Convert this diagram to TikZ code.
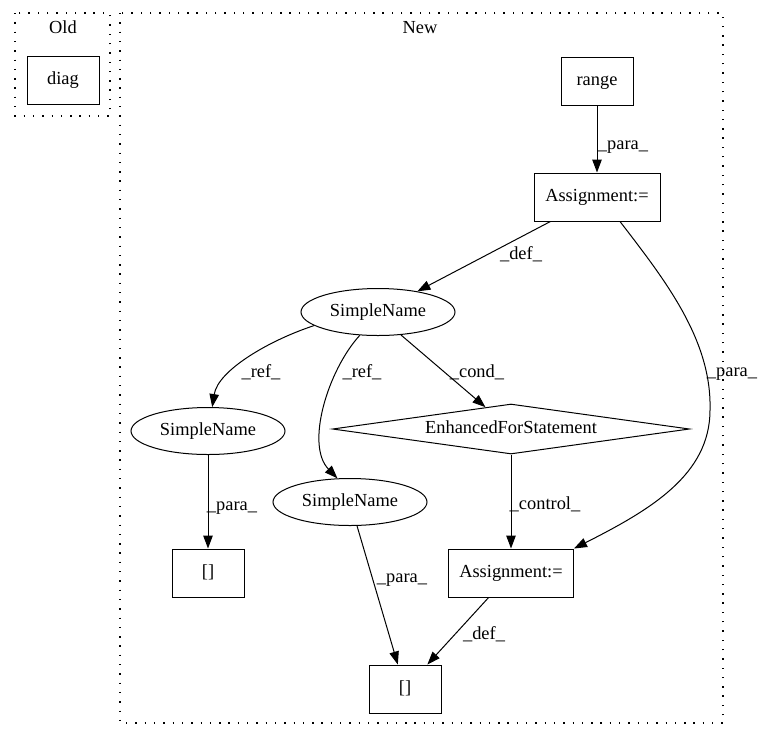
\documentclass[tikz,border=0pt]{standalone}
\usepackage{fontspec}
\setmainfont{Liberation Serif}
\usetikzlibrary{shapes.geometric,arrows.meta}
\begin{document}
\begin{tikzpicture}[x=1pt,y=-1pt,
  every node/.style={font=\fontsize{18.4}{22}\selectfont, text height=12.5pt, text depth=4pt, inner sep=0pt},
  gbox/.style={draw, rectangle, line width=1pt, minimum width=72pt, minimum height=48pt},
  gell/.style={draw, ellipse, line width=1pt, minimum width=154pt, minimum height=47pt},
  gdiam/.style={draw, diamond, aspect=7, line width=1pt, minimum width=357pt, minimum height=50pt},
  cluster/.style={draw, dash pattern=on 1.4pt off 7.9pt, line width=1.3pt},
  arr/.style={line width=1pt, -{Triangle[length=13pt,width=9.5pt]}},
  lbl/.style={}
]
\useasboundingbox (0,0) rectangle (763,740);
\fill[white] (0,0) rectangle (763,740);

% clusters
\draw[cluster] (15,13) rectangle (110,116);
\draw[cluster] (120,13) rectangle (723,723);
\node[lbl] (oldlbl) at (63,29) {Old};
\node[lbl] (newlbl) at (420,29) {New};

% nodes
\node[gbox] (diag) at (63,80) {diag};
\node[gbox] (range) at (597,81) {range};
\node[gbox, minimum width=126pt] (A1) at (597,197) {Assignment:=};
\node[gell] (SN0) at (378,312) {SimpleName};
\node[gell] (SN1) at (208,431) {SimpleName};
\node[gell] (SN2) at (350,502) {SimpleName};
\node[gdiam] (EFS) at (511,429) {EnhancedForStatement};
\node[gbox] (L1) at (208,573) {[]};
\node[gbox, minimum width=125pt] (A2) at (511,573) {Assignment:=};
\node[gbox] (L2) at (405,689) {[]};

% edges
\draw[arr] (range) -- (A1);
\draw[arr] (A1) -- (SN0);
\draw[arr] ([xshift=23pt]A1.south) .. controls (665,280) and (712,340) .. (710,410)
   .. controls (710,475) and (650,510) .. (A2.north east);
\draw[arr] (SN0.192) .. controls (270,340) and (218,370) .. (SN1.80);
\draw[arr] (SN0.232) .. controls (328,370) and (305,445) .. (SN2.118);
\draw[arr] (SN0.315) -- (EFS);
\draw[arr] (EFS) -- (A2);
\draw[arr] (SN1) -- (L1);
\draw[arr] (SN2) -- (L2);
\draw[arr] (A2) -- (L2);

% edge labels
\node[lbl] (e1) at (623,145) {\_para\_};
\node[lbl] (e2) at (521,255) {\_def\_};
\node[lbl] (e3) at (732,372) {\_para\_};
\node[lbl] (e4) at (261,373) {\_ref\_};
\node[lbl] (e5) at (362,373) {\_ref\_};
\node[lbl] (e6) at (477,373) {\_cond\_};
\node[lbl] (e7) at (232,506) {\_para\_};
\node[lbl] (e8) at (545,505) {\_control\_};
\node[lbl] (e9) at (402,578) {\_para\_};
\node[lbl] (e10) at (484,635) {\_def\_};
\end{tikzpicture}
\end{document}
